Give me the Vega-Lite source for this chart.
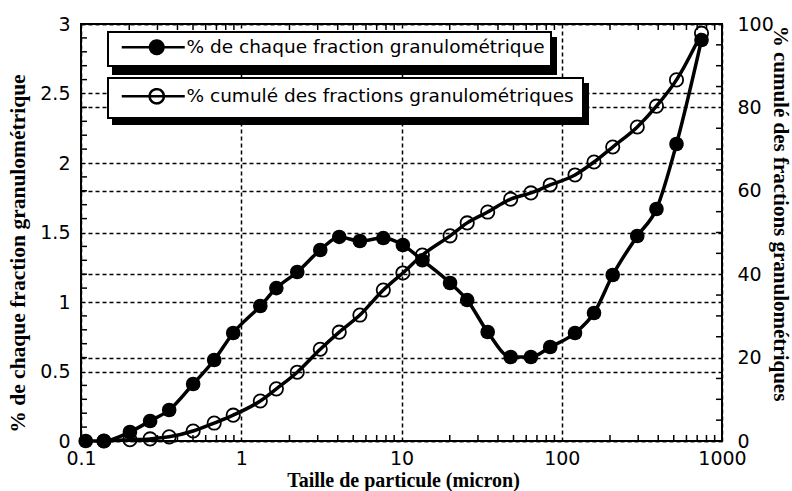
{
  "$schema": "https://vega.github.io/schema/vega-lite/v6.json",
  "width": 641,
  "height": 417,
  "autosize": {"type": "none"},
  "padding": {"left": 81, "top": 24, "right": 70, "bottom": 50},
  "background": "white",
  "config": {
    "view": {"stroke": "black", "strokeWidth": 2},
    "legend": {"strokeWidth": 2},
    "axis": {
      "domain": false,
      "ticks": false,
      "tickSize": 0,
      "gridColor": "black",
      "gridWidth": 1.5,
      "gridOpacity": 1,
      "labelFont": "DejaVu Sans",
      "labelFontSize": 19,
      "labelColor": "black",
      "labelOverlap": false,
      "labelFlush": false,
      "labelBound": false,
      "titleFont": "Liberation Serif",
      "titleFontWeight": "bold",
      "titleColor": "black"
    }
  },
  "datasets": {
    "frac": [
      {"size": 0.107, "pct": 0.0},
      {"size": 0.139, "pct": 0.0},
      {"size": 0.202, "pct": 0.065},
      {"size": 0.27, "pct": 0.144},
      {"size": 0.355, "pct": 0.223},
      {"size": 0.501, "pct": 0.41},
      {"size": 0.678, "pct": 0.583},
      {"size": 0.891, "pct": 0.777},
      {"size": 1.315, "pct": 0.971},
      {"size": 1.656, "pct": 1.1},
      {"size": 2.236, "pct": 1.216},
      {"size": 3.112, "pct": 1.374},
      {"size": 4.087, "pct": 1.468},
      {"size": 5.5, "pct": 1.439},
      {"size": 7.7, "pct": 1.46},
      {"size": 10.2, "pct": 1.41},
      {"size": 13.5, "pct": 1.3},
      {"size": 20.1, "pct": 1.137},
      {"size": 25.7, "pct": 1.014},
      {"size": 34.5, "pct": 0.784},
      {"size": 48.0, "pct": 0.604},
      {"size": 64.2, "pct": 0.604},
      {"size": 84.7, "pct": 0.676},
      {"size": 121, "pct": 0.777},
      {"size": 159, "pct": 0.921},
      {"size": 208, "pct": 1.194},
      {"size": 296, "pct": 1.475},
      {"size": 390, "pct": 1.669},
      {"size": 520, "pct": 2.137},
      {"size": 745, "pct": 2.885}
    ],
    "cumul": [
      {"size": 0.139, "cum": 0.0},
      {"size": 0.202, "cum": 0.3},
      {"size": 0.27, "cum": 0.5},
      {"size": 0.355, "cum": 1.0},
      {"size": 0.501, "cum": 2.4},
      {"size": 0.678, "cum": 4.3},
      {"size": 0.891, "cum": 6.2},
      {"size": 1.315, "cum": 9.6},
      {"size": 1.656, "cum": 12.5},
      {"size": 2.236, "cum": 16.5},
      {"size": 3.112, "cum": 22.0},
      {"size": 4.087, "cum": 26.1},
      {"size": 5.5, "cum": 30.2},
      {"size": 7.7, "cum": 36.2},
      {"size": 10.2, "cum": 40.3},
      {"size": 13.5, "cum": 44.6},
      {"size": 20.1, "cum": 49.2},
      {"size": 25.7, "cum": 52.3},
      {"size": 34.5, "cum": 54.9},
      {"size": 48.0, "cum": 58.0},
      {"size": 64.2, "cum": 59.5},
      {"size": 84.7, "cum": 61.4},
      {"size": 121, "cum": 63.8},
      {"size": 159, "cum": 66.9},
      {"size": 208, "cum": 70.5},
      {"size": 296, "cum": 75.3},
      {"size": 390, "cum": 80.3},
      {"size": 520, "cum": 86.6},
      {"size": 745, "cum": 97.8}
    ],
    "xticks": [
      {"v": 0.2}, {"v": 0.3}, {"v": 0.4}, {"v": 0.5}, {"v": 0.6}, {"v": 0.7}, {"v": 0.8}, {"v": 0.9},
      {"v": 2}, {"v": 3}, {"v": 4}, {"v": 5}, {"v": 6}, {"v": 7}, {"v": 8}, {"v": 9},
      {"v": 20}, {"v": 30}, {"v": 40}, {"v": 50}, {"v": 60}, {"v": 70}, {"v": 80}, {"v": 90},
      {"v": 200}, {"v": 300}, {"v": 400}, {"v": 500}, {"v": 600}, {"v": 700}, {"v": 800}, {"v": 900}
    ],
    "lticks": [
      {"v": 0.1}, {"v": 0.2}, {"v": 0.3}, {"v": 0.4}, {"v": 0.6}, {"v": 0.7}, {"v": 0.8}, {"v": 0.9},
      {"v": 1.1}, {"v": 1.2}, {"v": 1.3}, {"v": 1.4}, {"v": 1.6}, {"v": 1.7}, {"v": 1.8}, {"v": 1.9},
      {"v": 2.1}, {"v": 2.2}, {"v": 2.3}, {"v": 2.4}, {"v": 2.6}, {"v": 2.7}, {"v": 2.8}, {"v": 2.9}
    ],
    "rticks": [
      {"v": 5}, {"v": 10}, {"v": 15}, {"v": 25}, {"v": 30}, {"v": 35}, {"v": 45}, {"v": 50},
      {"v": 55}, {"v": 65}, {"v": 70}, {"v": 75}, {"v": 85}, {"v": 90}, {"v": 95}
    ]
  },
  "resolve": {"scale": {"y": "independent", "strokeDash": "independent"}, "axis": {"x": "independent", "y": "independent"}},
  "layer": [
    {
      "data": {"name": "xticks"},
      "mark": {"type": "tick", "orient": "vertical", "size": 12, "thickness": 1.5, "color": "black", "opacity": 1, "clip": true},
      "encoding": {
        "x": {"field": "v", "type": "quantitative", "scale": {"type": "log", "domain": [0.1, 1000], "nice": false}, "axis": null},
        "y": {"datum": 0, "type": "quantitative", "scale": {"domain": [0, 3], "nice": false}, "axis": null}
      }
    },
    {
      "data": {"name": "xticks"},
      "mark": {"type": "tick", "orient": "vertical", "size": 12, "thickness": 1.5, "color": "black", "opacity": 1, "clip": true},
      "encoding": {
        "x": {"field": "v", "type": "quantitative", "scale": {"type": "log", "domain": [0.1, 1000], "nice": false}, "axis": null},
        "y": {"datum": 3, "type": "quantitative", "scale": {"domain": [0, 3], "nice": false}, "axis": null}
      }
    },
    {
      "data": {"name": "lticks"},
      "mark": {"type": "tick", "orient": "horizontal", "size": 12, "thickness": 1.5, "color": "black", "opacity": 1, "clip": true},
      "encoding": {
        "x": {"datum": 0.1, "type": "quantitative", "scale": {"type": "log", "domain": [0.1, 1000], "nice": false}, "axis": null},
        "y": {"field": "v", "type": "quantitative", "scale": {"domain": [0, 3], "nice": false}, "axis": null}
      }
    },
    {
      "data": {"name": "rticks"},
      "mark": {"type": "tick", "orient": "horizontal", "size": 12, "thickness": 1.5, "color": "black", "opacity": 1, "clip": true},
      "encoding": {
        "x": {"datum": 1000, "type": "quantitative", "scale": {"type": "log", "domain": [0.1, 1000], "nice": false}, "axis": null},
        "y": {"field": "v", "type": "quantitative", "scale": {"domain": [0, 100], "nice": false, "zero": false}, "axis": null}
      }
    },
    {
      "data": {"name": "cumul"},
      "mark": {"type": "line", "interpolate": "monotone", "color": "black", "strokeWidth": 3.5},
      "encoding": {
        "x": {"field": "size", "type": "quantitative", "scale": {"type": "log", "domain": [0.1, 1000], "nice": false}, "axis": null},
        "y": {
          "field": "cum", "type": "quantitative",
          "scale": {"domain": [0, 100], "nice": false, "zero": false},
          "axis": {
            "orient": "right",
            "values": [0, 20, 40, 60, 80, 100],
            "grid": true,
            "gridDash": [4, 3],
            "labelPadding": 15,
            "title": "% cumulé des fractions granulométriques",
            "titleFontSize": 21,
            "titleAngle": 90,
            "titleX": 57,
            "titleY": 189,
            "titleAlign": "center",
            "titleBaseline": "middle"
          }
        }
      }
    },
    {
      "data": {"name": "cumul"},
      "mark": {"type": "point", "filled": false, "color": "black", "strokeWidth": 1.8, "size": 177, "opacity": 1},
      "encoding": {
        "x": {"field": "size", "type": "quantitative", "scale": {"type": "log", "domain": [0.1, 1000], "nice": false}, "axis": null},
        "y": {"field": "cum", "type": "quantitative", "scale": {"domain": [0, 100], "nice": false, "zero": false}, "axis": null}
      }
    },
    {
      "data": {"name": "frac"},
      "mark": {"type": "line", "interpolate": "monotone", "color": "black", "strokeWidth": 3.5},
      "encoding": {
        "x": {
          "field": "size", "type": "quantitative",
          "scale": {"type": "log", "domain": [0.1, 1000], "nice": false},
          "axis": {
            "orient": "bottom",
            "values": [0.1, 1, 10, 100, 1000],
            "format": "~g",
            "grid": true,
            "gridDash": [4, 3],
            "labelPadding": 8,
            "title": "Taille de particule (micron)",
            "titleFontSize": 20,
            "titleX": 322,
            "titleY": 45,
            "titleAlign": "center",
            "titleBaseline": "alphabetic"
          }
        },
        "y": {
          "field": "pct", "type": "quantitative",
          "scale": {"domain": [0, 3], "nice": false},
          "axis": {
            "orient": "left",
            "values": [0, 0.5, 1, 1.5, 2, 2.5, 3],
            "format": "~g",
            "grid": true,
            "gridDash": [4, 3],
            "labelPadding": 11,
            "title": "% de chaque fraction granulométrique",
            "titleFontSize": 21.5,
            "titleAngle": -90,
            "titleX": -63,
            "titleY": 229,
            "titleAlign": "center",
            "titleBaseline": "middle"
          }
        }
      }
    },
    {
      "data": {"name": "frac"},
      "mark": {"type": "point", "filled": true, "color": "black", "size": 214, "opacity": 1},
      "encoding": {
        "x": {"field": "size", "type": "quantitative", "scale": {"type": "log", "domain": [0.1, 1000], "nice": false}, "axis": null},
        "y": {"field": "pct", "type": "quantitative", "scale": {"domain": [0, 3], "nice": false}, "axis": null}
      }
    },
    {
      "data": {"name": "frac"},
      "transform": [{"filter": "false"}],
      "mark": {"type": "point", "filled": false, "color": "black", "strokeWidth": 2.5},
      "encoding": {
        "strokeDash": {
          "datum": "% de chaque fraction granulométrique", "type": "nominal",
          "scale": {"range": [[1, 0]]},
          "legend": {
            "orient": "none", "legendX": 27, "legendY": 8, "zindex": 2, "title": null,
            "padding": 6, "fillColor": "white", "strokeColor": "black",
            "symbolSize": 225, "symbolStrokeWidth": 2.5, "symbolOpacity": 1,
            "symbolStrokeColor": "black",
            "symbolType": "M-0.2,0H8.2M3.567,0A0.9,0.9,0,1,1,5.367,0A0.9,0.9,0,1,1,3.567,0ZM3.817,0A0.65,0.65,0,1,1,5.117,0A0.65,0.65,0,1,1,3.817,0ZM4.067,0A0.4,0.4,0,1,1,4.867,0A0.4,0.4,0,1,1,4.067,0ZM4.317,0A0.15,0.15,0,1,1,4.617,0A0.15,0.15,0,1,1,4.317,0Z",
            "labelOffset": 54, "labelFont": "DejaVu Sans", "labelFontSize": 18.5, "labelColor": "black", "labelLimit": 1000
          }
        }
      }
    },
    {
      "data": {"name": "cumul"},
      "transform": [{"filter": "false"}],
      "mark": {"type": "point", "filled": false, "color": "black", "strokeWidth": 2.5},
      "encoding": {
        "strokeDash": {
          "datum": "% cumulé des fractions granulométriques", "type": "nominal",
          "scale": {"range": [[1, 0]]},
          "legend": {
            "orient": "none", "legendX": 27, "legendY": 54, "zindex": 2, "title": null,
            "padding": 9, "fillColor": "white", "strokeColor": "black",
            "symbolSize": 225, "symbolStrokeWidth": 2.5, "symbolOpacity": 1,
            "symbolStrokeColor": "black",
            "symbolType": "M-0.6,0H7.8M3.117,0A0.95,0.95,0,1,1,5.017,0A0.95,0.95,0,1,1,3.117,0Z",
            "labelOffset": 51, "labelFont": "DejaVu Sans", "labelFontSize": 18.5, "labelColor": "black", "labelLimit": 1000
          }
        }
      }
    },
    {
      "data": {"name": "frac"},
      "transform": [{"filter": "false"}],
      "mark": {"type": "point", "filled": false, "fill": "black", "stroke": "black", "strokeWidth": 2.5},
      "encoding": {
        "strokeDash": {
          "datum": "% de chaque fraction granulométrique", "type": "nominal",
          "scale": {"range": [[1, 0]]},
          "legend": {
            "orient": "none", "legendX": 32, "legendY": 14, "zindex": 1, "title": null,
            "padding": 6, "fillColor": "black", "strokeColor": "black",
            "symbolSize": 225, "symbolStrokeWidth": 2.5, "symbolOpacity": 1,
            "symbolFillColor": "black", "symbolStrokeColor": "black",
            "symbolType": "M-0.2,0H8.2M3.4,0A1.07,1.07,0,1,1,5.53,0A1.07,1.07,0,1,1,3.4,0Z",
            "labelOffset": 54, "labelFont": "DejaVu Sans", "labelFontSize": 18.5, "labelColor": "black", "labelLimit": 1000
          }
        }
      }
    },
    {
      "data": {"name": "cumul"},
      "transform": [{"filter": "false"}],
      "mark": {"type": "point", "filled": false, "fill": "black", "stroke": "black", "strokeWidth": 2.5},
      "encoding": {
        "strokeDash": {
          "datum": "% cumulé des fractions granulométriques", "type": "nominal",
          "scale": {"range": [[1, 0]]},
          "legend": {
            "orient": "none", "legendX": 32, "legendY": 60, "zindex": 1, "title": null,
            "padding": 9, "fillColor": "black", "strokeColor": "black",
            "symbolSize": 225, "symbolStrokeWidth": 2.5, "symbolOpacity": 1,
            "symbolFillColor": "black", "symbolStrokeColor": "black",
            "symbolType": "M-0.6,0H7.8M3.117,0A0.95,0.95,0,1,1,5.017,0A0.95,0.95,0,1,1,3.117,0Z",
            "labelOffset": 51, "labelFont": "DejaVu Sans", "labelFontSize": 18.5, "labelColor": "black", "labelLimit": 1000
          }
        }
      }
    }
  ]
}
